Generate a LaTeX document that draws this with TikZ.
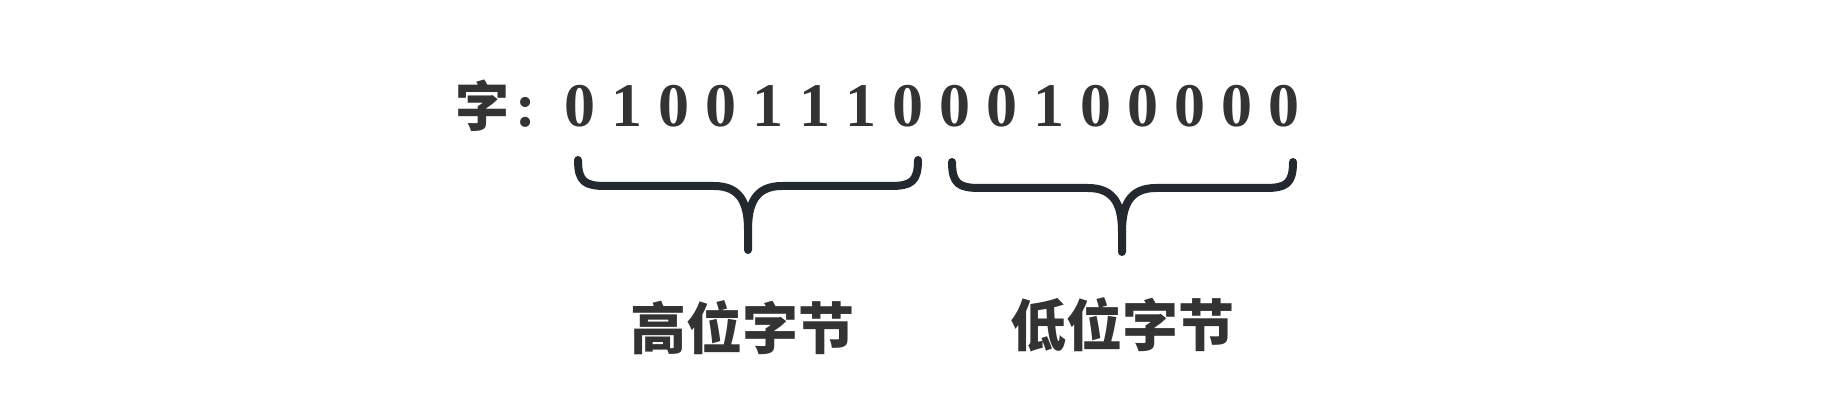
\documentclass[tikz,border=0pt]{standalone}
\usepackage{fontspec}
\setmainfont{Liberation Serif}
\newfontfamily\cjk{Noto Sans CJK SC}
\definecolor{textgray}{HTML}{333333}
\definecolor{bracecol}{HTML}{23292F}
\tikzset{
    bit/.style={inner sep=0pt, text=textgray, font=\fontsize{31}{31}\selectfont\bfseries},
    word/.style={inner sep=0pt, text=textgray, font=\fontsize{27}{27}\selectfont\cjk\bfseries},
    bytelabel/.style={inner sep=0pt, text=textgray, font=\fontsize{28}{28}\selectfont\cjk\bfseries},
    bracestroke/.style={draw=bracecol, line width=4pt, line cap=round, line join=round}
}
\begin{document}
\begin{tikzpicture}[x=0.5pt, y=-0.5pt]
    \useasboundingbox (0,0) rectangle (1824,416);

    %% A 16-bit word

    % Name
    \node[word] (zi) at (482,106) {字};
    \node[bit, anchor=base] (colon) at (526,127) {:};

    % Bits
    \foreach \b [count=\i] in {0,1,0,0,1,1,1,0,0,0,1,0,0,0,0,0}
        \node[bit] (d\i) at ({580+(\i-1)*46.9},106) {\b};

    % High byte brace
    \draw[bracestroke] (578,160) .. controls (578,182) and (585,186) .. (606,186)
        -- (714,186) .. controls (741,186) and (748,204) .. (748,230) -- (748,250);
    \draw[bracestroke] (748,230) .. controls (748,204) and (755,186) .. (782,186)
        -- (890,186) .. controls (911,186) and (918,182) .. (918,160);

    % Low byte brace
    \draw[bracestroke] (952,162) .. controls (952,184) and (959,188) .. (980,188)
        -- (1088,188) .. controls (1115,188) and (1122,206) .. (1122,232) -- (1122,252);
    \draw[bracestroke] (1122,232) .. controls (1122,206) and (1129,188) .. (1156,188)
        -- (1265,188) .. controls (1286,188) and (1293,184) .. (1293,162);

    % Labels
    \node[bytelabel] (high) at (742,328) {高位字节};
    \node[bytelabel] (low) at (1122,325) {低位字节};

\end{tikzpicture}
\end{document}
